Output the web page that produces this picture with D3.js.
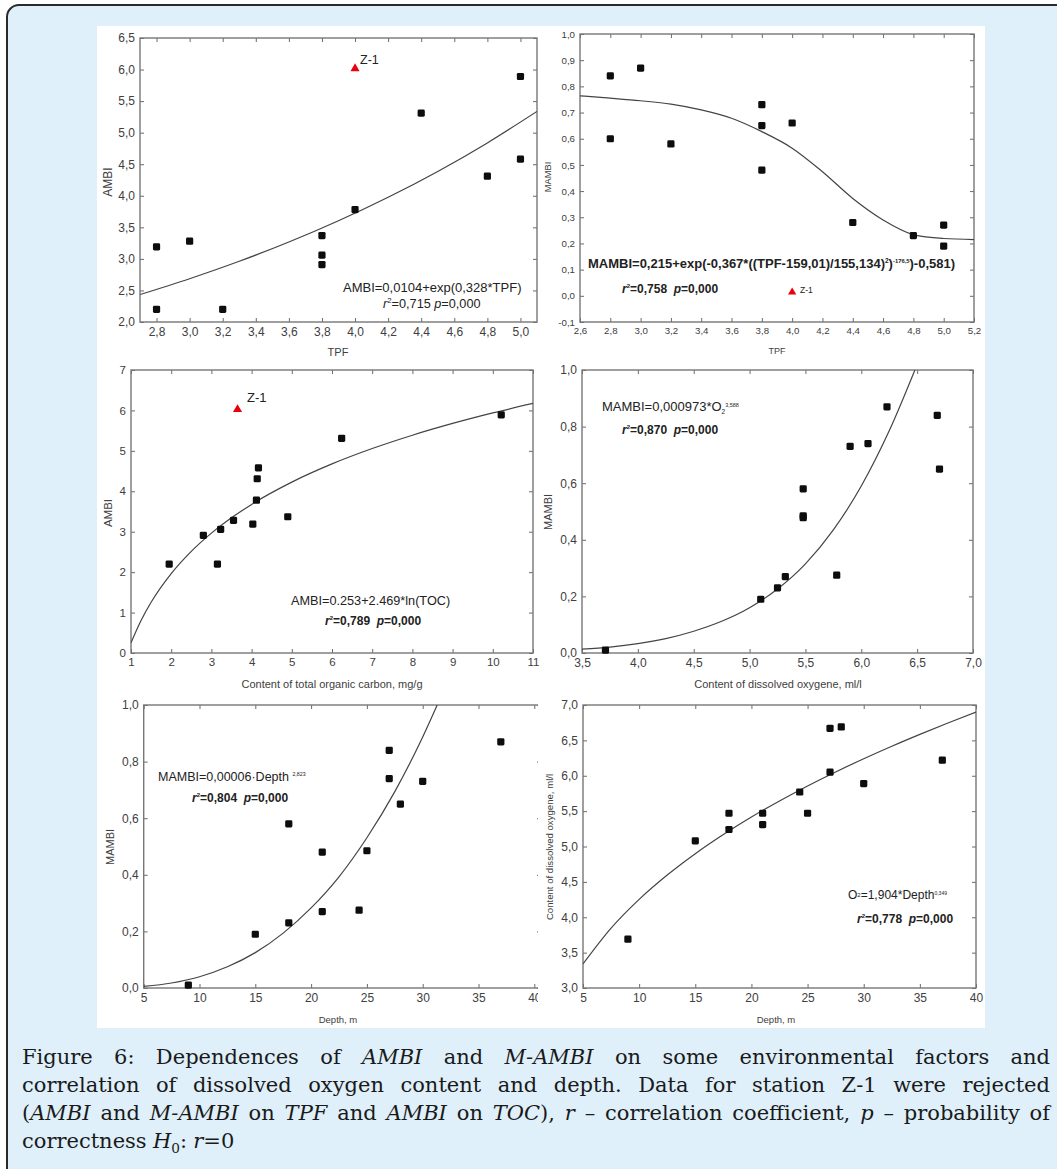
<!DOCTYPE html>
<html><head><meta charset="utf-8">
<script src="https://cdn.jsdelivr.net/npm/d3@7"></script>
<style>body{margin:0;background:#fff;overflow:hidden}</style>
</head><body><svg id="c" width="1057" height="1169"></svg>
<script>
// ---------------- DATA ----------------
// Panel 1 & 2 : TPF
const tpf        = [2.8, 2.8, 3.0, 3.2, 3.8, 3.8, 3.8, 4.0, 4.4, 4.8, 5.0, 5.0];
const ambiByTpf  = [3.19, 2.20, 3.28, 2.20, 3.37, 3.06, 2.91, 3.78, 5.31, 4.31, 5.89, 4.58];
const mambiByTpf = [0.84, 0.60, 0.87, 0.58, 0.73, 0.65, 0.48, 0.66, 0.28, 0.23, 0.27, 0.19];
const z1Tpf = [4.0], z1Ambi = [6.0], z1Mambi = [0.01], z1Toc = [3.65];
const fit1X = [2.7, 3.0, 3.3, 3.6, 3.9, 4.2, 4.5, 4.8, 5.1];
const fit1Y = [2.435, 2.686, 2.962, 3.267, 3.604, 3.976, 4.386, 4.838, 5.337];
const fit2X = [2.6, 2.8, 3.0, 3.2, 3.4, 3.6, 3.8, 4.0, 4.2, 4.4, 4.6, 4.8, 5.0, 5.2];
const fit2Y = [0.764, 0.755, 0.745, 0.732, 0.71, 0.678, 0.627, 0.564, 0.474, 0.372, 0.29, 0.234, 0.219, 0.215];
// Panel 3 : TOC
const toc       = [4.03, 1.95, 3.55, 3.15, 4.90, 3.23, 2.80, 4.12, 6.24, 4.14, 10.21, 4.17];
const ambiByToc = [3.19, 2.20, 3.28, 2.20, 3.37, 3.06, 2.91, 3.78, 5.31, 4.31, 5.89, 4.58];
const fit3X = [1, 1.25, 1.5, 2, 2.5, 3, 4, 5, 6, 7, 8, 9, 10, 11];
const fit3Y = [0.253, 0.804, 1.254, 1.964, 2.515, 2.965, 3.676, 4.227, 4.677, 5.057, 5.387, 5.678, 5.938, 6.173];
// Panel 4 : O2
const oxy      = [3.71, 5.10, 5.25, 5.32, 5.48, 5.48, 5.48, 5.78, 5.90, 6.06, 6.23, 6.68, 6.70];
const mambiByO = [0.01, 0.19, 0.23, 0.27, 0.58, 0.485, 0.478, 0.275, 0.73, 0.74, 0.87, 0.84, 0.65];
const fit4X = [3.5, 3.75, 4.0, 4.25, 4.5, 4.75, 5.0, 5.25, 5.5, 5.75, 6.0, 6.25, 6.48];
const fit4Y = [0.014, 0.021, 0.033, 0.051, 0.077, 0.112, 0.16, 0.226, 0.315, 0.435, 0.59, 0.785, 1.0];
// Panel 5 & 6 : Depth
const depth        = [9, 15, 18, 18, 21, 21, 24.3, 25, 27, 27, 28, 30, 37];
const mambiByDepth = [0.01, 0.19, 0.58, 0.23, 0.48, 0.27, 0.275, 0.485, 0.84, 0.74, 0.65, 0.73, 0.87];
const oxyByDepth   = [3.69, 5.08, 5.47, 5.24, 5.47, 5.31, 5.77, 5.47, 6.67, 6.05, 6.69, 5.89, 6.22];
const fit5X = [5, 7.5, 10, 12.5, 15, 17.5, 20, 22.5, 25, 27.5, 30, 31.3];
const fit5Y = [0.0056, 0.0177, 0.0399, 0.075, 0.125, 0.194, 0.283, 0.393, 0.531, 0.694, 0.887, 1.0];
const fit6X = [5, 7.5, 10, 12.5, 15, 17.5, 20, 22.5, 25, 27.5, 30, 32.5, 35, 37.5, 40];
const fit6Y = [3.339, 3.846, 4.253, 4.597, 4.899, 5.170, 5.417, 5.644, 5.856, 6.054, 6.240, 6.417, 6.585, 6.746, 6.899];
// Tick values
const ticksTpf1 = [2.8, 3.0, 3.2, 3.4, 3.6, 3.8, 4.0, 4.2, 4.4, 4.6, 4.8, 5.0];
const ticksAmbi1 = [2.0, 2.5, 3.0, 3.5, 4.0, 4.5, 5.0, 5.5, 6.0, 6.5];
const ticksTpf2 = [2.6, 2.8, 3.0, 3.2, 3.4, 3.6, 3.8, 4.0, 4.2, 4.4, 4.6, 4.8, 5.0, 5.2];
const ticksMambi2 = [-0.1, 0.0, 0.1, 0.2, 0.3, 0.4, 0.5, 0.6, 0.7, 0.8, 0.9, 1.0];
const ticksToc = [1, 2, 3, 4, 5, 6, 7, 8, 9, 10, 11];
const ticksAmbi3 = [0, 1, 2, 3, 4, 5, 6, 7];
const ticksOxy = [3.5, 4.0, 4.5, 5.0, 5.5, 6.0, 6.5, 7.0];
const ticksMambi = [0.0, 0.2, 0.4, 0.6, 0.8, 1.0];
const ticksDepth = [5, 10, 15, 20, 25, 30, 35, 40];
const ticksOxy6 = [3.0, 3.5, 4.0, 4.5, 5.0, 5.5, 6.0, 6.5, 7.0];

// ---------------- DRAWING ----------------
const SANS = "'Liberation Sans', Arial, sans-serif";
const SERIF = "'DejaVu Serif', 'Liberation Serif', serif";
const svg = d3.select("#c");
const dec1 = v => d3.format(".1f")(v).replace(".", ",").replace("\u2212", "-");
const int0 = v => d3.format("d")(v);

svg.append("rect").attr("x", 7).attr("y", 5).attr("width", 1080).attr("height", 1200)
  .attr("rx", 12).attr("fill", "#dff0fa").attr("stroke", "#2a2a2a").attr("stroke-width", 2);
svg.append("rect").attr("x", 97).attr("y", 26).attr("width", 888).attr("height", 1002).attr("fill", "#fff");

function rich(g, x, y, parts, size, opts = {}) {
  const t = g.append("text").attr("x", x).attr("y", y).attr("font-size", size)
    .attr("font-family", opts.family || SANS).attr("fill", opts.fill || "#222")
    .style("white-space", "pre");
  if (opts.weight) t.attr("font-weight", opts.weight);
  if (opts.anchor) t.attr("text-anchor", opts.anchor);
  let shift = 0;
  parts.forEach(p => {
    const s = t.append("tspan").text(p.t);
    let target = 0;
    if (p.sup) target = -size * (p.lift || 0.42); else if (p.sub) target = size * 0.25;
    s.attr("dy", target - shift); shift = target;
    if (p.sup || p.sub) s.attr("font-size", size * (p.scale || 0.62));
    if (p.i) s.attr("font-style", "italic");
  });
  return t;
}

let clipId = 0;
function panel(cfg) {
  const g = svg.append("g");
  const b = cfg.box;
  if (cfg.clipPanel) {
    const id = "pc" + (clipId++);
    svg.append("clipPath").attr("id", id).append("rect")
      .attr("x", cfg.clipPanel[0]).attr("y", cfg.clipPanel[1]).attr("width", cfg.clipPanel[2]).attr("height", cfg.clipPanel[3]);
    g.attr("clip-path", `url(#${id})`);
  }
  const x = d3.scaleLinear().domain(cfg.xd).range([b.l, b.r]);
  const y = d3.scaleLinear().domain(cfg.yd).range([b.b, b.t]);
  const cid = "fc" + (clipId++);
  svg.append("clipPath").attr("id", cid).append("rect")
    .attr("x", b.l).attr("y", b.t).attr("width", b.r - b.l).attr("height", b.b - b.t);

  const styleAxis = (sel, fs) => {
    sel.select(".domain").remove();
    sel.selectAll(".tick line").attr("stroke", "#6a6a6a").attr("stroke-width", 1);
    sel.selectAll(".tick text").attr("font-size", fs).attr("font-family", SANS).attr("fill", "#404040");
  };
  g.append("g").attr("transform", `translate(0,${b.b})`)
    .call(d3.axisBottom(x).tickValues(cfg.xt).tickFormat(cfg.xf).tickSizeInner(-4).tickSizeOuter(0).tickPadding(5))
    .call(s => styleAxis(s, cfg.fs));
  g.append("g").attr("transform", `translate(${b.l},0)`)
    .call(d3.axisLeft(y).tickValues(cfg.yt).tickFormat(cfg.yf).tickSizeInner(-4).tickSizeOuter(0).tickPadding(5))
    .call(s => styleAxis(s, cfg.fs));
  g.append("g").attr("transform", `translate(0,${b.t})`)
    .call(d3.axisTop(x).tickValues(cfg.xt).tickFormat("").tickSizeInner(-4).tickSizeOuter(0))
    .call(s => styleAxis(s, cfg.fs));
  g.append("g").attr("transform", `translate(${b.r},0)`)
    .call(d3.axisRight(y).tickValues(cfg.yt).tickFormat("").tickSizeInner(-4).tickSizeOuter(0))
    .call(s => styleAxis(s, cfg.fs));

  g.append("rect").attr("x", b.l).attr("y", b.t).attr("width", b.r - b.l).attr("height", b.b - b.t)
    .attr("fill", "none").attr("stroke", "#777").attr("stroke-width", 1.4);

  // fitted curve
  const line = d3.line().x(i => x(cfg.fx[i])).y(i => y(cfg.fy[i])).curve(d3.curveMonotoneX);
  g.append("path").attr("d", line(d3.range(cfg.fx.length))).attr("clip-path", `url(#${cid})`)
    .attr("fill", "none").attr("stroke", "#444").attr("stroke-width", 1.2);

  // points
  g.selectAll(null).data(d3.range(cfg.px.length)).join("rect")
    .attr("x", i => x(cfg.px[i]) - 3.6).attr("y", i => y(cfg.py[i]) - 3.6)
    .attr("width", 7.2).attr("height", 7.2).attr("rx", 1.4).attr("fill", "#0d0d0d");

  if (cfg.zx) {
    g.selectAll(null).data(d3.range(cfg.zx.length)).join("path")
      .attr("d", d3.symbol(d3.symbolTriangle).size(cfg.zsize || 34))
      .attr("transform", i => `translate(${x(cfg.zx[i])},${y(cfg.zy[i]) - 1})`)
      .attr("fill", "#e8000b");
    g.append("text").attr("x", cfg.zlab[0]).attr("y", cfg.zlab[1]).attr("font-size", cfg.zlab[2])
      .attr("font-family", SANS).attr("fill", "#222").text("Z-1");
  }

  // axis titles
  g.append("text").attr("x", cfg.xt_pos[0]).attr("y", cfg.xt_pos[1]).attr("text-anchor", "middle")
    .attr("font-size", cfg.xt_pos[2]).attr("font-family", SANS).attr("fill", "#404040").text(cfg.xlabel);
  g.append("text").attr("transform", `translate(${cfg.yt_pos[0]},${cfg.yt_pos[1]}) rotate(-90)`)
    .attr("text-anchor", "middle").attr("font-size", cfg.yt_pos[2]).attr("font-family", SANS)
    .attr("fill", "#404040").text(cfg.ylabel);

  (cfg.notes || []).forEach(n => rich(g, n.x, n.y, n.parts, n.size, { weight: n.weight }));
  return g;
}

// Panel 1
panel({
  box: { l: 140, t: 38, r: 537, b: 322 }, xd: [2.7, 5.1], yd: [2.0, 6.5],
  xt: ticksTpf1, yt: ticksAmbi1, xf: dec1, yf: dec1, fs: 12,
  fx: fit1X, fy: fit1Y, px: tpf, py: ambiByTpf,
  zx: z1Tpf, zy: z1Ambi, zsize: 36, zlab: [360, 64, 12.5],
  xlabel: "TPF", xt_pos: [338, 356, 11], ylabel: "AMBI", yt_pos: [112, 182, 12],
  notes: [
    { x: 343, y: 292, size: 13, parts: [{ t: "AMBI=0,0104+exp(0,328*TPF)" }] },
    { x: 383, y: 308, size: 12.7, parts: [{ t: "r", i: true }, { t: "2", sup: true }, { t: "=0,715 " }, { t: "p", i: true }, { t: "=0,000" }] }
  ]
});
// Panel 2
panel({
  box: { l: 580, t: 34, r: 974, b: 322 }, xd: [2.6, 5.2], yd: [-0.1, 1.0],
  xt: ticksTpf2, yt: ticksMambi2, xf: dec1, yf: dec1, fs: 9.7,
  fx: fit2X, fy: fit2Y, px: tpf, py: mambiByTpf,
  zx: z1Tpf, zy: z1Mambi, zsize: 30, zlab: [800, 293, 8.5],
  xlabel: "TPF", xt_pos: [777, 354, 9], ylabel: "MAMBI", yt_pos: [551, 177, 9.3],
  notes: [
    { x: 588, y: 268, size: 13, weight: "bold", parts: [{ t: "MAMBI=0,215+exp(-0,367*((TPF-159,01)/155,134)" }, { t: "2", sup: true, scale: 0.5 }, { t: ")" }, { t: "-176,5", sup: true, scale: 0.45 }, { t: ")-0,581)" }] },
    { x: 622, y: 293, size: 12, weight: "bold", parts: [{ t: "r", i: true }, { t: "2", sup: true, scale: 0.5 }, { t: "=0,758  " }, { t: "p", i: true }, { t: "=0,000" }] }
  ]
});
// Panel 3
panel({
  box: { l: 131, t: 370, r: 533, b: 653 }, xd: [1, 11], yd: [0, 7],
  xt: ticksToc, yt: ticksAmbi3, xf: int0, yf: int0, fs: 11.5,
  fx: fit3X, fy: fit3Y, px: toc, py: ambiByToc,
  zx: z1Toc, zy: z1Ambi, zsize: 36, zlab: [247, 402, 13],
  xlabel: "Content of total organic carbon, mg/g", xt_pos: [332, 688, 11], ylabel: "AMBI", yt_pos: [112, 513, 11.5],
  notes: [
    { x: 291, y: 605, size: 12.7, parts: [{ t: "AMBI=0.253+2.469*ln(TOC)" }] },
    { x: 325, y: 625, size: 12, weight: "bold", parts: [{ t: "r", i: true }, { t: "2", sup: true, scale: 0.5 }, { t: "=0,789  " }, { t: "p", i: true }, { t: "=0,000" }] }
  ]
});
// Panel 4
panel({
  box: { l: 582, t: 370, r: 973, b: 653 }, xd: [3.5, 7.0], yd: [0, 1.0],
  xt: ticksOxy, yt: ticksMambi, xf: dec1, yf: dec1, fs: 12,
  fx: fit4X, fy: fit4Y, px: oxy, py: mambiByO,
  xlabel: "Content of dissolved oxygene, ml/l", xt_pos: [778, 688, 11], ylabel: "MAMBI", yt_pos: [552, 512, 11],
  notes: [
    { x: 602, y: 411, size: 13, parts: [{ t: "MAMBI=0,000973*O" }, { t: "2", sub: true, scale: 0.5 }, { t: "3,588", sup: true, scale: 0.42, lift: 0.3 }] },
    { x: 622, y: 434, size: 12, weight: "bold", parts: [{ t: "r", i: true }, { t: "2", sup: true, scale: 0.5 }, { t: "=0,870  " }, { t: "p", i: true }, { t: "=0,000" }] }
  ]
});
// Panel 5
panel({
  box: { l: 143.7, t: 705, r: 541, b: 988 }, xd: [5, 40.6], yd: [0, 1.0],
  xt: ticksDepth, yt: ticksMambi, xf: int0, yf: dec1, fs: 12,
  clipPanel: [90, 690, 448, 345],
  fx: fit5X, fy: fit5Y, px: depth, py: mambiByDepth,
  xlabel: "Depth, m", xt_pos: [338, 1023, 9.5], ylabel: "MAMBI", yt_pos: [114, 847, 11],
  notes: [
    { x: 158, y: 781, size: 12.5, parts: [{ t: "MAMBI=0,00006·Depth " }, { t: "2,823", sup: true, scale: 0.42 }] },
    { x: 192, y: 802, size: 12, weight: "bold", parts: [{ t: "r", i: true }, { t: "2", sup: true, scale: 0.5 }, { t: "=0,804  " }, { t: "p", i: true }, { t: "=0,000" }] }
  ]
});
// Panel 6
panel({
  box: { l: 583, t: 705, r: 976, b: 988 }, xd: [5, 40], yd: [3.0, 7.0],
  xt: ticksDepth, yt: ticksOxy6, xf: int0, yf: dec1, fs: 12,
  fx: fit6X, fy: fit6Y, px: depth, py: oxyByDepth,
  xlabel: "Depth, m", xt_pos: [776, 1023, 9.5], ylabel: "Content of dissolved oxygene, ml/l", yt_pos: [553, 847, 9.6],
  notes: [
    { x: 848, y: 899, size: 12, parts: [{ t: "O" }, { t: "2", sup: true, scale: 0.5, lift: 0.2 }, { t: "=1,904*Depth" }, { t: "0,349", sup: true, scale: 0.42, lift: 0.3 }] },
    { x: 857, y: 923, size: 12, weight: "bold", parts: [{ t: "r", i: true }, { t: "2", sup: true, scale: 0.5 }, { t: "=0,778  " }, { t: "p", i: true }, { t: "=0,000" }] }
  ]
});

// ---------------- CAPTION ----------------
const captionLines = [
  "Figure 6: Dependences of *AMBI* and *M-AMBI* on some environmental factors and",
  "correlation of dissolved oxygen content and depth. Data for station Z-1 were rejected",
  "(*AMBI* and *M-AMBI* on *TPF* and *AMBI* on *TOC*), *r* – correlation coefficient, *p* – probability of",
  "correctness *H*_0_: *r*=0"
];
const capLeft = 22, capRight = 1050, capSize = 21, capSx = 1.0, capBase = [1064, 1092, 1120, 1148];
const capG = svg.append("g");
captionLines.forEach((ln, li) => {
  const words = ln.split(" ");
  const nodes = words.map(w => {
    const parts = w.match(/(\*[^*]+\*|_[^_]+_|[^*_]+)/g).map(s => {
      if (s[0] === "*") return { t: s.slice(1, -1), i: true };
      if (s[0] === "_") return { t: s.slice(1, -1), sub: true, scale: 0.65 };
      return { t: s };
    });
    return rich(capG, 0, 0, parts, capSize, { family: SERIF, fill: "#1a1a1a" });
  });
  const widths = nodes.map(n => n.node().getComputedTextLength() * capSx);
  const total = d3.sum(widths);
  const justify = li < captionLines.length - 1;
  const gap = justify ? (capRight - capLeft - total) / (words.length - 1) : capSize * 0.3 * capSx;
  let cx = capLeft;
  nodes.forEach((n, i) => { n.attr("transform", `translate(${cx},${capBase[li]}) scale(${capSx},1)`); cx += widths[i] + gap; });
});
</script>
</body></html>
